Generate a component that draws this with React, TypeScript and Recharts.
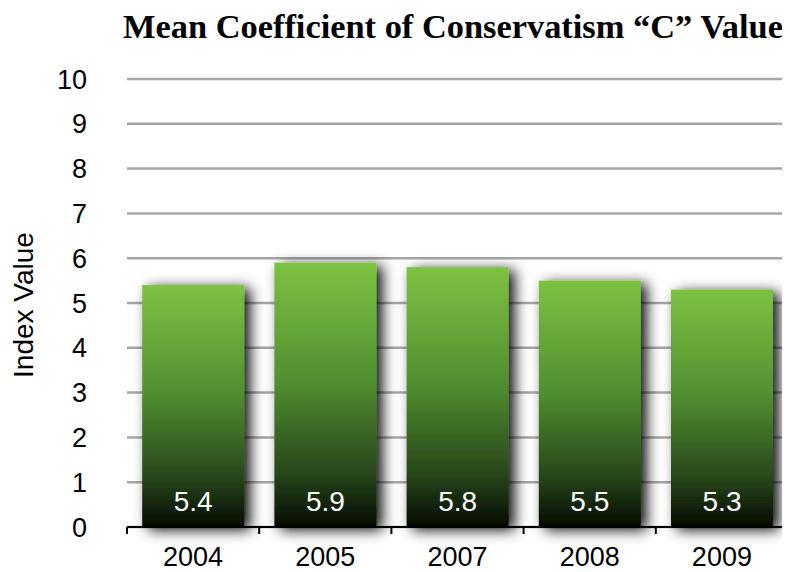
import { BarChart, Bar, XAxis, YAxis, CartesianGrid, LabelList } from 'recharts';

const years = ['2004', '2005', '2007', '2008', '2009'];
const meanC = [5.4, 5.9, 5.8, 5.5, 5.3];
const yTicks = [0, 1, 2, 3, 4, 5, 6, 7, 8, 9, 10];

const data = years.map((year, i) => ({ year, value: meanC[i] }));

const SANS = '"Liberation Sans", Arial, sans-serif';
const X_TICK_SIZE = 6;
const X_TICK_MARGIN = 14;
const EDGE_TICK = 7;

function GradientBar(props: any) {
  const { x, y, width, height } = props;
  if (!height) return null;
  return (
    <rect
      x={x}
      y={y}
      width={width}
      height={height}
      fill="url(#barGreen)"
      filter="url(#barShadow)"
    />
  );
}

function ValueLabel(props: any) {
  const { x, y, width, height, value } = props;
  return (
    <text
      x={x + width / 2}
      y={y + height - 16}
      textAnchor="middle"
      fill="#ffffff"
      fontSize={28}
      fontFamily={SANS}
    >
      {Number(value).toFixed(1)}
    </text>
  );
}

// year label plus tick marks on the band boundaries (left edge, and right edge for the last band)
function YearTick(props: any) {
  const { x, y, width, visibleTicksCount, index, payload } = props;
  const band = width / visibleTicksCount;
  const axisY = y - X_TICK_SIZE - X_TICK_MARGIN;
  const left = x - band / 2;
  const right = x + band / 2;
  return (
    <g>
      <line x1={left} x2={left} y1={axisY} y2={axisY + EDGE_TICK} stroke="#000" strokeWidth={2} />
      {index === visibleTicksCount - 1 && (
        <line x1={right} x2={right} y1={axisY} y2={axisY + EDGE_TICK} stroke="#000" strokeWidth={2} />
      )}
      <text x={x} y={y} dy="0.71em" textAnchor="middle" fontSize={27} fontFamily={SANS} fill="#000">
        {payload.value}
      </text>
    </g>
  );
}

function AxisTitle(props: any) {
  const { viewBox } = props;
  const cy = viewBox.y + viewBox.height / 2 + 2;
  return (
    <text
      x={25}
      y={cy}
      transform={`rotate(-90, 25, ${cy})`}
      textAnchor="middle"
      fontSize={28}
      fontFamily={SANS}
      fill="#000"
    >
      Index Value
    </text>
  );
}

export default function App() {
  return (
    <BarChart
      width={782}
      height={564}
      data={data}
      margin={{ top: 71, right: 2, bottom: 0, left: 0 }}
      barCategoryGap="11.5%"
    >
      <defs>
        <linearGradient id="barGreen" x1="0" y1="0" x2="0" y2="1">
          <stop offset="0%" stopColor="#7cc242" />
          <stop offset="45%" stopColor="#508f30" />
          <stop offset="80%" stopColor="#27461a" />
          <stop offset="100%" stopColor="#030a00" />
        </linearGradient>
        <filter id="barShadow" x="-30%" y="-20%" width="170%" height="150%">
          <feDropShadow dx="6" dy="3" stdDeviation="7" floodColor="#000" floodOpacity="0.95" />
        </filter>
      </defs>
      <text
        x={115}
        y={30}
        textLength={660}
        lengthAdjust="spacingAndGlyphs"
        fontFamily='"Liberation Serif", "Times New Roman", serif'
        fontWeight="bold"
        fontSize={34}
        fill="#000"
      >
        Mean Coefficient of Conservatism “C” Value
      </text>
      <CartesianGrid vertical={false} stroke="#a6a6a6" strokeWidth={2.5} />
      <YAxis
        domain={[0, 10]}
        ticks={yTicks}
        interval={0}
        width={119}
        axisLine={false}
        tickLine={false}
        tickMargin={34}
        tick={{ fontSize: 27, fill: '#000', fontFamily: SANS }}
        label={<AxisTitle />}
      />
      <Bar dataKey="value" shape={<GradientBar />} isAnimationActive={false}>
        <LabelList dataKey="value" content={<ValueLabel />} />
      </Bar>
      <XAxis
        dataKey="year"
        height={45}
        axisLine={{ stroke: '#000', strokeWidth: 2 }}
        tickLine={false}
        tickSize={X_TICK_SIZE}
        tickMargin={X_TICK_MARGIN}
        interval={0}
        tick={<YearTick />}
      />
    </BarChart>
  );
}
